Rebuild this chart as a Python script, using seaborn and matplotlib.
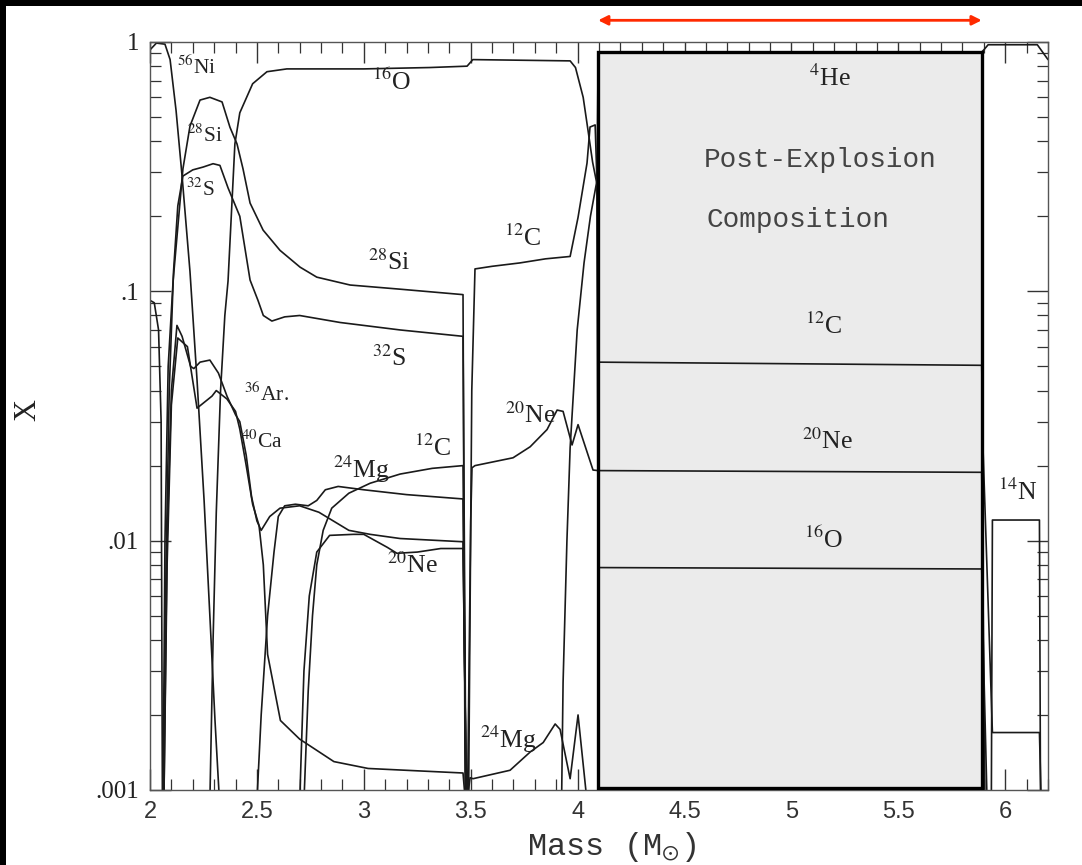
import numpy as np
import pandas as pd
import matplotlib
matplotlib.use("Agg")
import matplotlib.pyplot as plt
from matplotlib.patches import Rectangle
from matplotlib.ticker import FixedLocator, FuncFormatter, MultipleLocator, LogLocator, NullFormatter
import seaborn as sns

# ---------------- data (mass in Msun, mass fraction X) ----------------
ni56_m = [2.0, 2.03, 2.07, 2.094, 2.122, 2.15, 2.187, 2.22, 2.253, 2.281, 2.304, 2.325]
ni56_x = [0.93, 0.99, 0.98, 0.85, 0.53, 0.29, 0.12, 0.044, 0.0145, 0.0048, 0.0019, 0.0009]

edge_m = [2.0, 2.02, 2.04, 2.052, 2.058]
edge_x = [0.092, 0.09, 0.07, 0.03, 0.0009]

si28_m = [2.061, 2.07, 2.085, 2.108, 2.154, 2.187, 2.234, 2.28, 2.337, 2.374, 2.407, 2.435,
          2.468, 2.529, 2.608, 2.702, 2.78, 2.936, 3.17, 3.464, 3.474]
si28_x = [0.0009, 0.01, 0.05, 0.11, 0.31, 0.46, 0.585, 0.6, 0.575, 0.455, 0.39, 0.31,
          0.226, 0.176, 0.146, 0.125, 0.114, 0.106, 0.102, 0.097, 0.0009]

s32_m = [2.063, 2.075, 2.09, 2.11, 2.13, 2.154, 2.2, 2.248, 2.295, 2.327, 2.365, 2.42,
         2.468, 2.505, 2.53, 2.57, 2.63, 2.70, 2.889, 3.17, 3.464, 3.478]
s32_x = [0.0009, 0.008, 0.04, 0.12, 0.22, 0.29, 0.307, 0.315, 0.325, 0.32, 0.26, 0.2,
         0.111, 0.092, 0.08, 0.076, 0.079, 0.08, 0.075, 0.07, 0.066, 0.0009]

ar36_m = [2.065, 2.08, 2.10, 2.126, 2.15, 2.19, 2.205, 2.234, 2.28, 2.32, 2.36, 2.40, 2.42,
          2.45, 2.475, 2.50, 2.52, 2.56, 2.608, 2.70, 2.79, 2.93, 3.03, 3.17, 3.464, 3.48]
ar36_x = [0.0009, 0.01, 0.04, 0.073, 0.066, 0.05, 0.049, 0.052, 0.053, 0.047, 0.038, 0.032, 0.03,
          0.022, 0.015, 0.012, 0.011, 0.0125, 0.0135, 0.0138, 0.013, 0.011, 0.0106, 0.0102, 0.0099, 0.0009]

ca40_m = [2.065, 2.08, 2.10, 2.13, 2.175, 2.22, 2.29, 2.31, 2.36, 2.40, 2.42, 2.45, 2.48,
          2.51, 2.53, 2.55, 2.61, 2.70, 2.86, 3.02, 3.464, 3.475]
ca40_x = [0.0009, 0.008, 0.035, 0.065, 0.06, 0.034, 0.038, 0.04, 0.037, 0.033, 0.028, 0.02, 0.014,
          0.0115, 0.008, 0.0035, 0.0019, 0.0016, 0.0013, 0.00122, 0.00117, 0.0009]

mg24_m = [2.50, 2.52, 2.55, 2.58, 2.60, 2.63, 2.68, 2.74, 2.78, 2.82, 2.88, 3.0, 3.2, 3.464, 3.478]
mg24_x = [0.0009, 0.002, 0.005, 0.009, 0.0125, 0.0138, 0.014, 0.0138, 0.0145, 0.016, 0.0165,
          0.016, 0.0153, 0.0147, 0.0009]

c12a_m = [2.72, 2.74, 2.76, 2.78, 2.81, 2.85, 2.93, 3.03, 3.17, 3.32, 3.464, 3.478]
c12a_x = [0.0009, 0.0025, 0.005, 0.008, 0.011, 0.0135, 0.0155, 0.017, 0.0185, 0.0195, 0.020, 0.0009]

ne20a_m = [2.70, 2.72, 2.745, 2.78, 2.84, 2.95, 3.0, 3.11, 3.155, 3.25, 3.36, 3.464, 3.48]
ne20a_x = [0.0009, 0.003, 0.006, 0.009, 0.0105, 0.0106, 0.0106, 0.0094, 0.0089, 0.009, 0.0093,
           0.0093, 0.0009]

o16_m = [2.28, 2.295, 2.31, 2.33, 2.35, 2.365, 2.397, 2.42, 2.48, 2.547, 2.64, 3.0, 3.31, 3.483,
         3.51, 3.965, 3.99, 4.026, 4.049, 4.07, 4.09, 4.096, 5.89, 5.90, 5.915]
o16_x = [0.0009, 0.004, 0.013, 0.04, 0.08, 0.11, 0.39, 0.52, 0.68, 0.76, 0.78, 0.78, 0.79, 0.80,
         0.85, 0.84, 0.79, 0.60, 0.44, 0.33, 0.27, 0.0078, 0.0077, 0.003, 0.0009]

c12b_m = [3.49, 3.505, 3.52, 3.6, 3.73, 3.85, 3.965, 4.002, 4.044, 4.058, 4.082, 4.092, 4.096,
          5.89, 5.895, 5.94, 6.16, 6.168]
c12b_x = [0.0009, 0.04, 0.123, 0.126, 0.13, 0.135, 0.138, 0.198, 0.327, 0.456, 0.465, 0.25, 0.052,
          0.0505, 0.025, 0.0017, 0.0017, 0.0009]

ne20b_m = [3.485, 3.50, 3.506, 3.52, 3.698, 3.778, 3.857, 3.904, 3.932, 3.974, 4.002, 4.072, 4.096,
           5.89, 5.897, 5.905]
ne20b_x = [0.0009, 0.012, 0.0196, 0.02, 0.0215, 0.0238, 0.0279, 0.0334, 0.033, 0.0242, 0.0292,
           0.0192, 0.0191, 0.0188, 0.005, 0.0009]

mg24b_m = [3.483, 3.497, 3.511, 3.684, 3.778, 3.839, 3.895, 3.918, 3.965, 4.002, 4.044]
mg24b_x = [0.0009, 0.00112, 0.00111, 0.0012, 0.00142, 0.00155, 0.00184, 0.00175, 0.00111, 0.002, 0.0009]

he4_m = [3.925, 3.932, 3.95, 3.965, 3.998, 4.03, 4.06, 4.091, 4.096, 5.89, 5.90, 5.92, 6.15, 6.2]
he4_x = [0.0009, 0.0027, 0.01, 0.0236, 0.07, 0.13, 0.2, 0.28, 0.912, 0.912, 0.93, 0.975, 0.975, 0.85]

n14_m = [5.935, 5.94, 6.16, 6.165]
n14_x = [0.0009, 0.0121, 0.0121, 0.0009]

curves = {
    "Ni56": (ni56_m, ni56_x), "edge": (edge_m, edge_x), "Si28": (si28_m, si28_x),
    "S32": (s32_m, s32_x), "Ar36": (ar36_m, ar36_x), "Ca40": (ca40_m, ca40_x),
    "Mg24a": (mg24_m, mg24_x), "C12a": (c12a_m, c12a_x), "Ne20a": (ne20a_m, ne20a_x),
    "O16": (o16_m, o16_x), "C12b": (c12b_m, c12b_x), "Ne20b": (ne20b_m, ne20b_x),
    "Mg24b": (mg24b_m, mg24b_x), "He4": (he4_m, he4_x), "N14": (n14_m, n14_x),
}

labels_txt = [r"$^{56}$Ni", r"$^{28}$Si", r"$^{32}$S", r"$^{16}$O", r"$^{28}$Si", r"$^{32}$S",
              r"$^{12}$C", r"$^{36}$Ar.", r"$^{40}$Ca", r"$^{24}$Mg", r"$^{12}$C", r"$^{20}$Ne",
              r"$^{20}$Ne", r"$^{24}$Mg", r"$^{4}$He", r"$^{12}$C", r"$^{20}$Ne", r"$^{16}$O",
              r"$^{14}$N"]
labels_m = [2.22, 2.257, 2.234, 3.13, 3.12, 3.12, 3.745, 2.545, 2.525, 2.99, 3.32, 3.226,
            3.78, 3.675, 5.18, 5.15, 5.17, 5.15, 6.06]
labels_x = [0.79, 0.42, 0.255, 0.69, 0.131, 0.054, 0.164, 0.0385, 0.025, 0.0194, 0.0236, 0.0080,
            0.0318, 0.0016, 0.717, 0.073, 0.025, 0.0101, 0.0157]
labels_small = [True, True, True, False, False, False, False, True, True, False, False, False,
                False, False, False, False, False, False, False]

x_ticks = [2, 2.5, 3, 3.5, 4, 4.5, 5, 5.5, 6]
y_ticks = [0.001, 0.01, 0.1, 1]
y_ticklabels = [".001", ".01", ".1", "1"]

box_m = (4.096, 5.89)
box_x = (0.00102, 0.914)

# ---------------- figure ----------------
sns.set_theme(style="ticks")
plt.rcParams["mathtext.fontset"] = "stix"

fig = plt.figure(figsize=(10.82, 8.65), dpi=100, facecolor="white")
ax = fig.add_axes([150 / 1082, 1 - 790 / 865, 898 / 1082, 748 / 865])
ax.set_facecolor("white")

rows = []
for name, (ms, xs) in curves.items():
    for i, (m, x) in enumerate(zip(ms, xs)):
        rows.append({"curve": name, "order": i, "M": m, "X": x})
df = pd.DataFrame(rows)

# shaded post-explosion box (fill below the curves)
ax.add_patch(Rectangle((box_m[0], box_x[0]), box_m[1] - box_m[0], box_x[1] - box_x[0],
                       facecolor="#ebebeb", edgecolor="none", zorder=1))

sns.lineplot(data=df, x="M", y="X", units="curve", estimator=None, sort=False,
             color="#1a1a1a", linewidth=1.2, ax=ax, legend=False, zorder=2)

ax.add_patch(Rectangle((box_m[0], box_x[0]), box_m[1] - box_m[0], box_x[1] - box_x[0],
                       facecolor="none", edgecolor="black", linewidth=2.4, zorder=4))

ax.set_yscale("log")
ax.set_xlim(2.0, 6.2)
ax.set_ylim(0.001, 1.0)

ax.xaxis.set_major_locator(FixedLocator(x_ticks))
ax.xaxis.set_minor_locator(MultipleLocator(0.1))
ax.xaxis.set_major_formatter(FuncFormatter(lambda v, p: f"{v:g}"))
ax.yaxis.set_major_locator(FixedLocator(y_ticks))
ax.yaxis.set_minor_locator(LogLocator(base=10, subs=np.arange(2, 10)))
ax.yaxis.set_minor_formatter(NullFormatter())
ax.set_yticklabels(y_ticklabels)

ax.tick_params(which="both", direction="in", top=True, right=True, colors="#333333")
ax.tick_params(which="major", length=15, width=1.0, pad=8)
ax.tick_params(which="minor", length=8, width=0.9)
for t in ax.get_xticklabels():
    t.set_fontfamily("Liberation Sans")
    t.set_fontsize(17)
    t.set_color("#333333")
for t in ax.get_yticklabels():
    t.set_fontfamily("Liberation Serif")
    t.set_fontsize(18)
    t.set_color("#222222")
for sp in ax.spines.values():
    sp.set_color("#555555")
    sp.set_linewidth(1.0)

ax.set_xlabel(r"Mass (M$_{\odot}$)", fontfamily="Liberation Mono", fontsize=23,
              color="#333333")
ax.xaxis.set_label_coords(0.514, -0.054)
ax.set_ylabel("X", fontfamily="Liberation Serif", fontsize=22, color="#222222")
ax.yaxis.set_label_coords(-0.12, 0.508)

for txt, m, x, small in zip(labels_txt, labels_m, labels_x, labels_small):
    ax.text(m, x, txt, fontfamily="Liberation Serif", fontsize=15.5 if small else 18.5,
            color="#222222", ha="center", va="center", zorder=5)

ax.text(5.134, 0.337, "Post-Explosion", fontfamily="Liberation Mono", fontsize=20,
        color="#444444", ha="center", va="center", zorder=5)
ax.text(5.03, 0.193, "Composition", fontfamily="Liberation Mono", fontsize=20,
        color="#444444", ha="center", va="center", zorder=5)

# red double arrow above the box
ax.annotate("", xy=(box_m[1], 1.029), xytext=(box_m[0], 1.029),
            xycoords=("data", "axes fraction"), textcoords=("data", "axes fraction"),
            arrowprops=dict(arrowstyle="<|-|>", color="#ff2a00", lw=2.0,
                            mutation_scale=14, shrinkA=0, shrinkB=0),
            annotation_clip=False)

# black scan border (left and top)
fig.patches.append(Rectangle((0, 0), 6 / 1082, 1, transform=fig.transFigure,
                             facecolor="black", edgecolor="none", zorder=10))
fig.patches.append(Rectangle((0, 1 - 6 / 865), 1, 6 / 865, transform=fig.transFigure,
                             facecolor="black", edgecolor="none", zorder=10))

fig.savefig("out.png", dpi=100, facecolor=fig.get_facecolor())
